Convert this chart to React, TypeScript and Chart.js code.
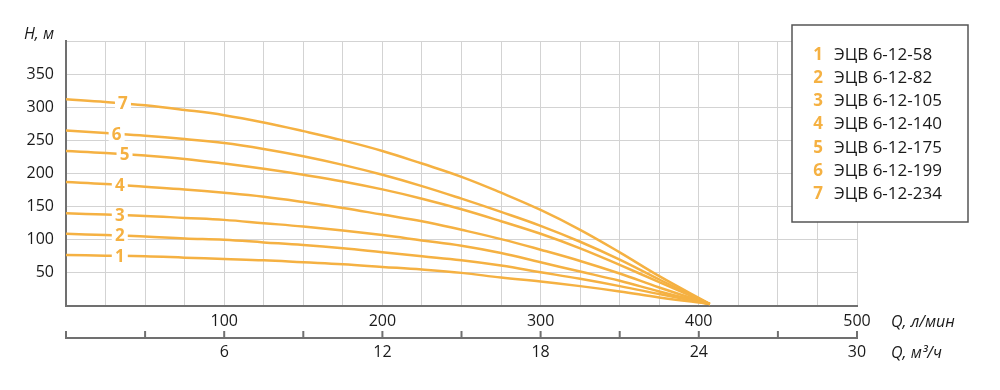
import React, { useEffect, useRef } from "react";
import { Chart, registerables } from "chart.js";

Chart.register(...registerables);

// Flow, l/min
const Q_LMIN = [0, 25, 50, 75, 100, 125, 150, 175, 200, 225, 250, 275, 300, 325, 350, 375, 407];
// Head, m for each pump
const H_58 = [77, 76, 75, 73, 71, 69, 66, 63, 59, 55, 50, 43, 37, 30, 22, 13, 3];
const H_82 = [109, 107, 105, 102, 100, 96, 92, 87, 81, 75, 69, 61, 51, 41, 30, 18, 3];
const H_105 = [140, 138, 136, 133, 130, 125, 120, 114, 107, 99, 91, 80, 66, 52, 38, 22, 3];
const H_140 = [187, 184, 180, 176, 171, 165, 157, 148, 138, 128, 115, 101, 85, 68, 49, 28, 3];
const H_175 = [234, 231, 227, 222, 215, 207, 198, 188, 176, 162, 146, 128, 109, 87, 62, 36, 3];
const H_199 = [265, 261, 257, 252, 246, 237, 226, 213, 198, 181, 162, 142, 121, 97, 70, 40, 3];
const H_234 = [312, 308, 303, 296, 288, 277, 264, 250, 234, 215, 195, 171, 145, 115, 81, 45, 3];

const SERIES = [H_58, H_82, H_105, H_140, H_175, H_199, H_234];
const CURVE_NUMBERS = ["1", "2", "3", "4", "5", "6", "7"];
const MODELS = [
  "ЭЦВ 6-12-58",
  "ЭЦВ 6-12-82",
  "ЭЦВ 6-12-105",
  "ЭЦВ 6-12-140",
  "ЭЦВ 6-12-175",
  "ЭЦВ 6-12-199",
  "ЭЦВ 6-12-234",
];
// Flow (l/min) where each curve number sits on its curve
const LABEL_Q = [34, 34, 34, 34, 37, 32, 36];

const X_LMIN_MAX = 500;
const X_M3H_MAX = 30;
const Y_MAX = 400;
const X_LMIN_LABELS = [100, 200, 300, 400, 500];
const X_M3H_LABELS = [6, 12, 18, 24, 30];
const Y_LABELS = [50, 100, 150, 200, 250, 300, 350];

const ORANGE = "#F5B142";
const AXIS = "#707070";
const GRID = "#d3d3d3";
const TEXT = "#1a1a1a";
const FONT = "'Open Sans', 'Noto Sans', sans-serif";

function interp(xs: number[], ys: number[], x: number) {
  for (let i = 0; i < xs.length - 1; i++) {
    if (x >= xs[i] && x <= xs[i + 1]) {
      const t = (x - xs[i]) / (xs[i + 1] - xs[i]);
      return ys[i] + t * (ys[i + 1] - ys[i]);
    }
  }
  return ys[ys.length - 1];
}

const overlayPlugin = {
  id: "overlay",
  afterDatasetsDraw(chart: any) {
    const ctx = chart.ctx;
    const xs = chart.scales.x;
    const ys = chart.scales.y;
    ctx.save();
    SERIES.forEach((h, i) => {
      const q = LABEL_Q[i];
      const px = xs.getPixelForValue(q);
      const py = ys.getPixelForValue(interp(Q_LMIN, h, q));
      ctx.fillStyle = "#ffffff";
      ctx.fillRect(px - 8, py - 7, 16, 14);
      ctx.fillStyle = ORANGE;
      ctx.font = `bold 17px ${FONT}`;
      ctx.textAlign = "center";
      ctx.textBaseline = "middle";
      ctx.fillText(CURVE_NUMBERS[i], px, py + 1);
    });
    ctx.restore();
  },
  afterDraw(chart: any) {
    const ctx = chart.ctx;
    const x2 = chart.scales.x2;
    const area = chart.chartArea;
    ctx.save();
    // second flow axis line with upward ticks
    const lineY = x2.top;
    ctx.strokeStyle = AXIS;
    ctx.lineWidth = 2;
    ctx.beginPath();
    ctx.moveTo(x2.left, lineY);
    ctx.lineTo(x2.right, lineY);
    ctx.stroke();
    x2.ticks.forEach((t: any) => {
      const px = x2.getPixelForValue(t.value);
      ctx.beginPath();
      ctx.moveTo(px, lineY + 1);
      ctx.lineTo(px, lineY - 7);
      ctx.stroke();
    });

    // axis titles
    ctx.fillStyle = TEXT;
    ctx.font = `italic 16px ${FONT}`;
    ctx.textBaseline = "middle";
    ctx.textAlign = "right";
    ctx.fillText("H, м", area.left - 12, area.top - 7);
    ctx.textAlign = "left";
    ctx.fillText("Q, л/мин", area.right + 34, 322);
    ctx.fillText("Q, м³/ч", area.right + 34, 353);

    // legend box
    const bx = 792, by = 25, bw = 176, bh = 197;
    ctx.fillStyle = "#ffffff";
    ctx.fillRect(bx, by, bw, bh);
    ctx.strokeStyle = "#555555";
    ctx.lineWidth = 1.5;
    ctx.strokeRect(bx, by, bw, bh);
    MODELS.forEach((m, i) => {
      const y = 55 + i * 23.2;
      ctx.textAlign = "center";
      ctx.fillStyle = ORANGE;
      ctx.font = `bold 17px ${FONT}`;
      ctx.fillText(CURVE_NUMBERS[i], 818, y);
      ctx.textAlign = "left";
      ctx.fillStyle = TEXT;
      ctx.font = `17px ${FONT}`;
      ctx.fillText(m, 834, y);
    });
    ctx.restore();
  },
};

export default function App() {
  const ref = useRef<HTMLCanvasElement | null>(null);

  useEffect(() => {
    if (!ref.current) return;
    const chart = new Chart(ref.current, {
      type: "line",
      data: {
        datasets: SERIES.map((h, i) => ({
          label: MODELS[i],
          data: Q_LMIN.map((q, j) => ({ x: q, y: h[j] })),
          borderColor: ORANGE,
          borderWidth: 2.5,
          pointRadius: 0,
          fill: false,
          tension: 0.4,
          xAxisID: "x",
          yAxisID: "y",
        })),
      },
      options: {
        animation: false,
        responsive: false,
        maintainAspectRatio: false,
        layout: { padding: { left: 0, top: 41, right: 143, bottom: 0 } },
        plugins: { legend: { display: false }, tooltip: { enabled: false } },
        scales: {
          x: {
            type: "linear",
            position: "bottom",
            min: 0,
            max: X_LMIN_MAX,
            afterFit: (s: any) => {
              s.height = 32;
            },
            grid: { color: GRID, lineWidth: 1, drawTicks: false },
            border: { color: AXIS, width: 2 },
            ticks: {
              stepSize: 25,
              autoSkip: false,
              maxRotation: 0,
              padding: 6,
              color: TEXT,
              font: { family: FONT, size: 16 },
              callback: (v: any) => (X_LMIN_LABELS.includes(Number(v)) ? String(v) : ""),
            },
          },
          x2: {
            type: "linear",
            position: "bottom",
            min: 0,
            max: X_M3H_MAX,
            afterFit: (s: any) => {
              s.height = 52;
            },
            grid: { display: false, drawTicks: false },
            border: { display: false },
            ticks: {
              stepSize: 3,
              autoSkip: false,
              maxRotation: 0,
              padding: 5,
              color: TEXT,
              font: { family: FONT, size: 16 },
              callback: (v: any) => (X_M3H_LABELS.includes(Number(v)) ? String(v) : ""),
            },
          },
          y: {
            type: "linear",
            min: 0,
            max: Y_MAX,
            afterFit: (s: any) => {
              s.width = 66;
            },
            grid: { color: GRID, lineWidth: 1, drawTicks: false },
            border: { color: AXIS, width: 2 },
            ticks: {
              stepSize: 50,
              padding: 12,
              color: TEXT,
              font: { family: FONT, size: 16 },
              callback: (v: any) => (Y_LABELS.includes(Number(v)) ? String(v) : ""),
            },
          },
        },
      },
      plugins: [overlayPlugin],
    });
    return () => chart.destroy();
  }, []);

  return (
    <div style={{ position: "fixed", left: 0, top: 0, width: 1000, height: 390, background: "#fff" }}>
      <canvas ref={ref} width={1000} height={390} style={{ display: "block", width: 1000, height: 390 }} />
    </div>
  );
}
